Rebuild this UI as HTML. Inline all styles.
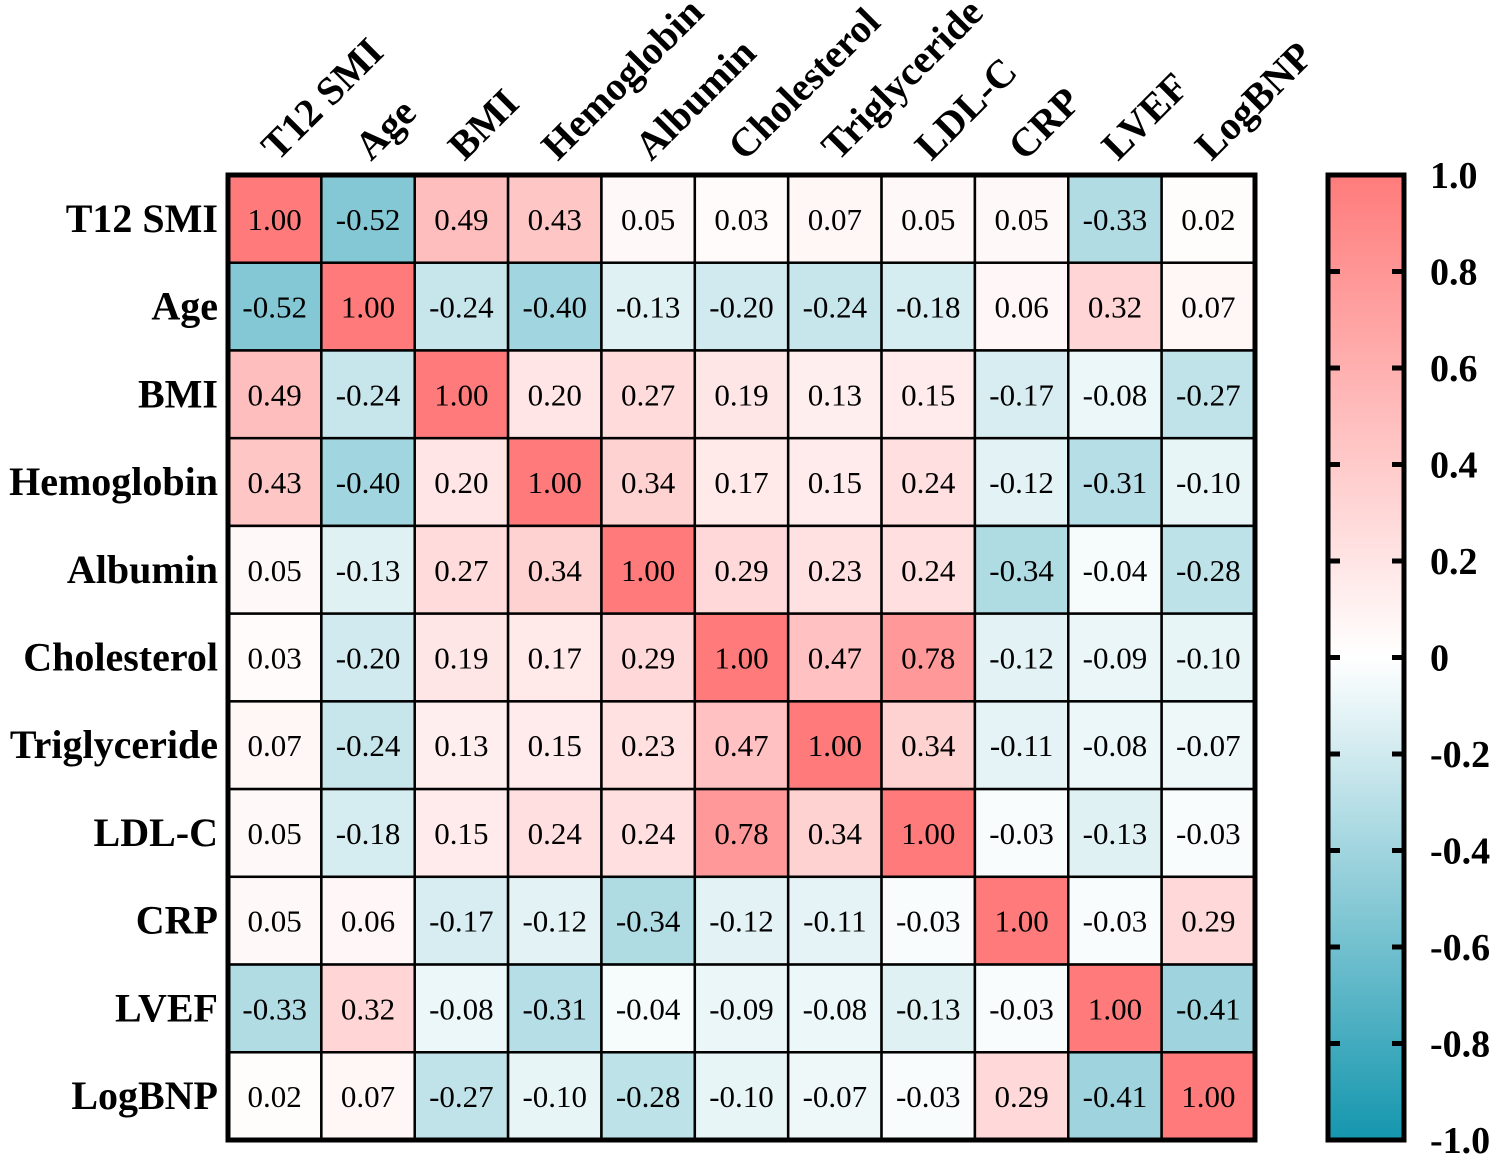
<!DOCTYPE html>
<html><head><meta charset="utf-8"><style>body{margin:0;background:#fff}svg{display:block}</style></head>
<body>
<svg id="chart" width="1500" height="1160" xmlns="http://www.w3.org/2000/svg" font-family="'Liberation Serif', serif">
<defs><linearGradient id="cbg" x1="0" y1="0" x2="0" y2="1">
<stop offset="0" stop-color="#ff7b7b"/><stop offset="0.5" stop-color="#ffffff"/><stop offset="1" stop-color="#1496ae"/></linearGradient></defs>
<g id="cells"></g><g id="labels"></g>
</svg>
<script>
const variables=["T12 SMI","Age","BMI","Hemoglobin","Albumin","Cholesterol","Triglyceride","LDL-C","CRP","LVEF","LogBNP"];
const matrix=[
[1.00,-0.52,0.49,0.43,0.05,0.03,0.07,0.05,0.05,-0.33,0.02],
[-0.52,1.00,-0.24,-0.40,-0.13,-0.20,-0.24,-0.18,0.06,0.32,0.07],
[0.49,-0.24,1.00,0.20,0.27,0.19,0.13,0.15,-0.17,-0.08,-0.27],
[0.43,-0.40,0.20,1.00,0.34,0.17,0.15,0.24,-0.12,-0.31,-0.10],
[0.05,-0.13,0.27,0.34,1.00,0.29,0.23,0.24,-0.34,-0.04,-0.28],
[0.03,-0.20,0.19,0.17,0.29,1.00,0.47,0.78,-0.12,-0.09,-0.10],
[0.07,-0.24,0.13,0.15,0.23,0.47,1.00,0.34,-0.11,-0.08,-0.07],
[0.05,-0.18,0.15,0.24,0.24,0.78,0.34,1.00,-0.03,-0.13,-0.03],
[0.05,0.06,-0.17,-0.12,-0.34,-0.12,-0.11,-0.03,1.00,-0.03,0.29],
[-0.33,0.32,-0.08,-0.31,-0.04,-0.09,-0.08,-0.13,-0.03,1.00,-0.41],
[0.02,0.07,-0.27,-0.10,-0.28,-0.10,-0.07,-0.03,0.29,-0.41,1.00]];
const colorbarTicks=[1.0,0.8,0.6,0.4,0.2,0,-0.2,-0.4,-0.6,-0.8,-1.0];
const tickLabels=["1.0","0.8","0.6","0.4","0.2","0","-0.2","-0.4","-0.6","-0.8","-1.0"];

const NS="http://www.w3.org/2000/svg";
const svg=document.getElementById('chart');
const gx0=228,gx1=1255,gy0=175,gy1=1140;
const n=variables.length,cw=(gx1-gx0)/n,ch=(gy1-gy0)/n;
const xPos=i=>gx0+i*cw, yPos=i=>gy0+i*ch;
function color(v){
  const t=Math.abs(v);
  const c=v>=0?[255,123,123]:[20,150,174];
  return `rgb(${c.map(k=>Math.round(255+(k-255)*t)).join(',')})`;
}
function mk(tag,attrs,parent,text){const e=document.createElementNS(NS,tag);for(const k in attrs)e.setAttribute(k,attrs[k]);if(text!==undefined)e.textContent=text;(parent||svg).appendChild(e);return e;}
const cells=document.getElementById('cells');
for(let r=0;r<n;r++)for(let c=0;c<n;c++){
  const v=matrix[r][c];
  const rect=mk('rect',{x:xPos(c),y:yPos(r),width:cw,height:ch,fill:color(v),stroke:'#000','stroke-width':2.5},cells);
  
  
  const t=mk('text',{x:xPos(c)+cw/2,y:yPos(r)+ch/2+11,'text-anchor':'middle','font-size':31},cells,v.toFixed(2));
  
  
}
const border=mk('rect',{x:gx0,y:gy0,width:gx1-gx0,height:gy1-gy0,fill:'none',stroke:'#000','stroke-width':5});


const labels=document.getElementById('labels');
variables.forEach((name,i)=>{
  const rl=mk('text',{x:218,y:yPos(i)+ch/2+13,'text-anchor':'end','font-size':40,'font-weight':'bold'},labels,name);
  
  
  const x=xPos(i)+cw/2+3,y=162;
  const cl=mk('text',{x:x,y:y,'font-size':40,'font-weight':'bold',transform:`rotate(-45 ${x} ${y})`},labels,name);
  
  
});
const bx0=1328,bx1=1404,by0=175,by1=1140;
const bar=mk('rect',{x:bx0,y:by0,width:bx1-bx0,height:by1-by0,fill:'url(#cbg)',stroke:'#000','stroke-width':5});


const cy=v=>by0+(1-v)/2*(by1-by0);
colorbarTicks.forEach((v,i)=>{
  const y=cy(v);
  if(i>0&&i<colorbarTicks.length-1){
    mk('line',{x1:bx0,x2:bx0+12,y1:y,y2:y,stroke:'#000','stroke-width':5});
    mk('line',{x1:bx1-12,x2:bx1,y1:y,y2:y,stroke:'#000','stroke-width':5});
  }
  const t=mk('text',{x:1430,y:y+13,'font-size':38,'font-weight':'bold'},null,tickLabels[i]);
  
  
});
</script>
</body></html>
